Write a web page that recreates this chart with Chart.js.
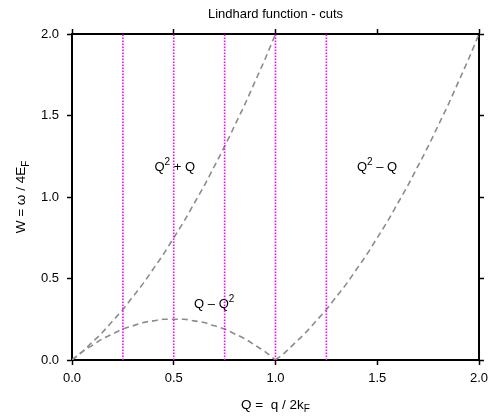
<!DOCTYPE html>
<html>
<head>
<meta charset="utf-8">
<script src="https://cdn.jsdelivr.net/npm/chart.js@4/dist/chart.umd.min.js"></script>
<style>
  html, body { margin: 0; padding: 0; background: #fff; }
  #wrap { width: 491px; height: 416px; }
</style>
</head>
<body>
<div id="wrap"><canvas id="myChart" width="491" height="416"></canvas></div>
<script>
// Q values along the lower branch (0..1) and the upper branch (1..2)
const qLower = [0, 0.05, 0.1, 0.15, 0.2, 0.25, 0.3, 0.35, 0.4, 0.45, 0.5,
                0.55, 0.6, 0.65, 0.7, 0.75, 0.8, 0.85, 0.9, 0.95, 1.0];
const qUpper = [1.0, 1.05, 1.1, 1.15, 1.2, 1.25, 1.3, 1.35, 1.4, 1.45, 1.5,
                1.55, 1.6, 1.65, 1.7, 1.75, 1.8, 1.85, 1.9, 1.95, 2.0];

// W on each cut
const wSum = [0, 0.05, 0.11, 0.17, 0.24, 0.31, 0.39, 0.47, 0.56, 0.65, 0.75,
              0.85, 0.96, 1.07, 1.19, 1.31, 1.44, 1.57, 1.71, 1.85, 2.0];   // Q^2 + Q
const wDiff = [0, 0.05, 0.09, 0.13, 0.16, 0.19, 0.21, 0.23, 0.24, 0.25, 0.25,
               0.25, 0.24, 0.23, 0.21, 0.19, 0.16, 0.13, 0.09, 0.05, 0];    // Q - Q^2
const wUpper = [0, 0.05, 0.11, 0.17, 0.24, 0.31, 0.39, 0.47, 0.56, 0.65, 0.75,
                0.85, 0.96, 1.07, 1.19, 1.31, 1.44, 1.57, 1.71, 1.85, 2.0]; // Q^2 - Q

// vertical cuts at fixed Q
const cutQ = [0.25, 0.5, 0.75, 1.0, 1.25];

const xRange = [0, 2];
const yRange = [0, 2];

const FONT = '"Liberation Sans", Arial, Helvetica, sans-serif';
Chart.defaults.font.family = FONT;
Chart.defaults.font.size = 13;
Chart.defaults.color = '#000';

function toPoints(xs, ys) {
  return xs.map((x, i) => ({ x: x, y: ys[i] }));
}

const curveStyle = {
  borderColor: '#8c8c8c',
  borderWidth: 1.6,
  borderDash: [6, 4],
  pointRadius: 0,
  fill: false,
  cubicInterpolationMode: 'monotone'
};

const datasets = [];
cutQ.forEach(q => {
  datasets.push({
    data: [{ x: q, y: yRange[0] }, { x: q, y: yRange[1] }],
    borderColor: '#ff00ff',
    borderWidth: 1.6,
    borderDash: [1.5, 1.5],
    pointRadius: 0,
    fill: false
  });
});
datasets.push(Object.assign({ data: toPoints(qLower, wSum) }, curveStyle));
datasets.push(Object.assign({ data: toPoints(qLower, wDiff) }, curveStyle));
datasets.push(Object.assign({ data: toPoints(qUpper, wUpper) }, curveStyle));

// text with super/subscripts: parts = [{t, sup|sub}]
function richWidth(ctx, parts, size) {
  let w = 0;
  parts.forEach(p => {
    const s = (p.sup || p.sub) ? Math.round(size * 0.75) : size;
    ctx.font = s + 'px ' + FONT;
    w += ctx.measureText(p.t).width;
  });
  return w;
}
function drawRich(ctx, parts, x, y, size) {
  let cx = x;
  parts.forEach(p => {
    const s = (p.sup || p.sub) ? Math.round(size * 0.75) : size;
    ctx.font = s + 'px ' + FONT;
    const dy = p.sup ? -size * 0.42 : (p.sub ? size * 0.28 : 0);
    ctx.fillText(p.t, cx, y + dy);
    cx += ctx.measureText(p.t).width;
  });
}

// curve names, placed in data coordinates (left end, baseline)
const curveNames = [
  { parts: [{ t: 'Q' }, { t: '2', sup: true }, { t: ' + Q' }], q: 0.405, w: 1.16 },
  { parts: [{ t: 'Q – Q' }, { t: '2', sup: true }], q: 0.6, w: 0.32 },
  { parts: [{ t: 'Q' }, { t: '2', sup: true }, { t: ' – Q' }], q: 1.4, w: 1.16 }
];

const labelPlugin = {
  id: 'labels',
  afterDraw(chart) {
    const ctx = chart.ctx;
    const xs = chart.scales.x, ys = chart.scales.y;
    const area = chart.chartArea;
    ctx.save();
    ctx.fillStyle = '#000';
    ctx.textBaseline = 'alphabetic';
    ctx.textAlign = 'left';

    curveNames.forEach(n => {
      drawRich(ctx, n.parts, xs.getPixelForValue(n.q), ys.getPixelForValue(n.w), 13);
    });

    // title
    const title = [{ t: 'Lindhard function - cuts' }];
    const cx = (area.left + area.right) / 2;
    drawRich(ctx, title, cx - richWidth(ctx, title, 13) / 2, 18, 13);

    // x axis title
    const xt = [{ t: 'Q =  q / 2k' }, { t: 'F', sub: true }];
    drawRich(ctx, xt, cx - richWidth(ctx, xt, 13.5) / 2, 408.5, 13.5);

    // y axis title, rotated
    const yt = [{ t: 'W = ω / 4E' }, { t: 'F', sub: true }];
    const cy = (area.top + area.bottom) / 2;
    ctx.translate(25, cy);
    ctx.rotate(-Math.PI / 2);
    drawRich(ctx, yt, -richWidth(ctx, yt, 13.5) / 2, 0, 13.5);
    ctx.restore();
  }
};

function axis(position, size, showLabels) {
  return {
    type: 'linear',
    position: position,
    min: 0,
    max: 2,
    ticks: {
      display: showLabels,
      stepSize: 0.5,
      padding: 6,
      callback: v => v.toFixed(1)
    },
    grid: {
      drawOnChartArea: false,
      drawTicks: true,
      tickLength: 5,
      tickWidth: 1.5,
      tickColor: '#000'
    },
    border: { display: true, color: '#000', width: 2 },
    afterFit(scale) {
      if (position === 'left' || position === 'right') scale.width = size;
      else scale.height = size;
      // keep end labels from shrinking the plot area
      scale.paddingLeft = 0;
      scale.paddingRight = 0;
      scale.paddingTop = 0;
      scale.paddingBottom = 0;
    }
  };
}

const scaleX = axis('bottom', 56, true);
const scaleY = axis('left', 72, true);
scaleY.ticks.padding = 8;
const scaleX2 = axis('top', 34, false);
const scaleY2 = axis('right', 12, false);

const myChart = document.getElementById('myChart');
const chart = new Chart(myChart, {
  type: 'line',
  data: { datasets: datasets },
  options: {
    responsive: false,
    animation: false,
    layout: { padding: 0 },
    plugins: {
      legend: { display: false },
      tooltip: { enabled: false },
      title: { display: false }
    },
    scales: {
      x: scaleX,
      y: scaleY,
      x2: scaleX2,
      y2: scaleY2
    }
  },
  plugins: [labelPlugin]
});
</script>
</body>
</html>
